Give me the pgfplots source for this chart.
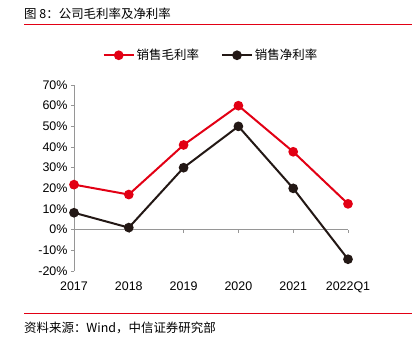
\documentclass[border=0pt]{standalone}
\usepackage{pgfplots}
\pgfplotsset{compat=1.18}
\usepackage{fontspec}
\setmainfont{Liberation Sans}
\newfontfamily\cjk{Noto Sans CJK SC}
\definecolor{cred}{RGB}{226,0,20}
\definecolor{cblk}{RGB}{35,24,21}
\definecolor{cgray}{RGB}{150,150,150}
\begin{document}
\begin{tikzpicture}[x=1bp,y=1bp]
\useasboundingbox (0,0) rectangle (412,-342);
\draw[cred, line width=1bp] (24,-24) -- (412,-24);
\node[anchor=west, inner sep=0pt, font=\cjk\fontsize{12.5}{14}\selectfont] at (24,-14) {图 8：公司毛利率及净利率};
\draw[cred, line width=1bp] (24,-313) -- (412,-313);
\node[anchor=west, inner sep=0pt, font=\cjk\fontsize{12.5}{14}\selectfont] at (24,-328) {资料来源：Wind，中信证券研究部};
\begin{axis}[
  at={(74bp,-271bp)}, anchor=south west,
  scale only axis, width=274bp, height=186bp,
  xmin=0, xmax=5, ymin=-20, ymax=70,
  axis x line=middle, axis y line=left,
  hide obscured x ticks=false,
  x axis line style={-, cgray},
  y axis line style={-, cgray},
  tick style={cgray, line width=0.6bp},
  tick align=outside, major tick length=3bp,
  xtick={0,1,2,3,4,5},
  xticklabels={2017,2018,2019,2020,2021,2022Q1},
  ytick={-20,-10,0,10,20,30,40,50,60,70},
  yticklabel={\pgfmathprintnumber{\tick}\%},
  /pgf/number format/assume math mode=true,
  tick label style={font=\fontsize{12.5}{14}\selectfont, text=black},
  xticklabel style={yshift=-46bp, anchor=north},
  clip=false,
  legend style={at={(0.5,1.16)}, anchor=center, draw=none, fill=none,
    font=\cjk\fontsize{12.5}{14}\selectfont, legend columns=2,
    /tikz/every even column/.append style={column sep=20bp}},
  legend image code/.code={\draw[mark repeat=2,mark phase=2] plot coordinates {(0bp,0bp)(15bp,0bp)(30bp,0bp)};},
]
\addplot[cred, line width=2bp, mark=*, mark size=3.8bp, mark options={fill=cred}] coordinates {
(0,21.8) (1,17) (2,41) (3,60) (4,37.7) (5,12.5)};
\addlegendentry{销售毛利率}
\addplot[cblk, line width=2bp, mark=*, mark size=3.8bp, mark options={fill=cblk}] coordinates {
(0,8.2) (1,1) (2,30) (3,50) (4,20) (5,-14.3)};
\addlegendentry{销售净利率}
\end{axis}
\end{tikzpicture}
\end{document}
